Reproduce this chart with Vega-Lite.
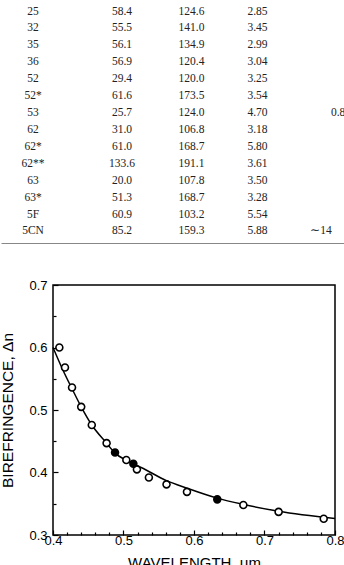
{
  "$schema": "https://vega.github.io/schema/vega-lite/v6.json",
  "background": "white",
  "padding": 0,
  "columns": 1,
  "align": "none",
  "spacing": 35,
  "config": {
    "view": {"stroke": "black", "strokeWidth": 1.5},
    "axis": {"labelFont": "Liberation Sans", "titleFont": "Liberation Sans", "labelColor": "black", "titleColor": "black", "titleFontWeight": "normal", "grid": false, "domain": false, "tickColor": "black", "tickWidth": 1.2, "labelFlush": false, "labelOverlap": false}
  },
  "concat": [
    {
      "width": 292,
      "height": 243,
      "view": {"stroke": null},
      "data": {"values": [
        {"s": "25", "a": "58.4", "b": "124.6", "c": "2.85"},
        {"s": "32", "a": "55.5", "b": "141.0", "c": "3.45"},
        {"s": "35", "a": "56.1", "b": "134.9", "c": "2.99"},
        {"s": "36", "a": "56.9", "b": "120.4", "c": "3.04"},
        {"s": "52", "a": "29.4", "b": "120.0", "c": "3.25"},
        {"s": "52*", "a": "61.6", "b": "173.5", "c": "3.54"},
        {"s": "53", "a": "25.7", "b": "124.0", "c": "4.70", "e": "0.85"},
        {"s": "62", "a": "31.0", "b": "106.8", "c": "3.18"},
        {"s": "62*", "a": "61.0", "b": "168.7", "c": "5.80"},
        {"s": "62**", "a": "133.6", "b": "191.1", "c": "3.61"},
        {"s": "63", "a": "20.0", "b": "107.8", "c": "3.50"},
        {"s": "63*", "a": "51.3", "b": "168.7", "c": "3.28"},
        {"s": "5F", "a": "60.9", "b": "103.2", "c": "5.54"},
        {"s": "5CN", "a": "85.2", "b": "159.3", "c": "5.88", "d": "∼14"}
      ]},
      "transform": [
        {"fold": ["s", "a", "b", "c", "d", "e"], "as": ["key", "txt"]},
        {"filter": "datum.txt != null"},
        {"lookup": "key", "from": {"data": {"values": [
          {"key": "s", "pos": 1}, {"key": "a", "pos": 2}, {"key": "b", "pos": 3},
          {"key": "c", "pos": 4}, {"key": "d", "pos": 5}, {"key": "e", "pos": 6}
        ]}, "key": "key", "fields": ["pos"]}}
      ],
      "mark": {"type": "text", "font": "Liberation Serif", "fontSize": 11.5, "color": "#222"},
      "encoding": {
        "x": {"field": "pos", "type": "quantitative", "scale": {"domain": [0, 1, 2, 3, 4, 5, 6, 7], "range": [-52, -20, 69, 138.5, 204.5, 268, 288, 292]}, "axis": {"domain": true, "domainColor": "#888", "domainWidth": 1, "ticks": false, "labels": false, "title": null}},
        "y": {"field": "s", "type": "ordinal", "sort": null, "scale": {"type": "point", "padding": 0.68}, "axis": null},
        "text": {"field": "txt", "type": "nominal"}
      }
    },
    {
      "width": 282,
      "height": 250,
      "layer": [
        {
          "data": {"values": [
            {"wl": 0.400, "dn": 0.600}, {"wl": 0.414, "dn": 0.564}, {"wl": 0.427, "dn": 0.534},
            {"wl": 0.440, "dn": 0.505}, {"wl": 0.455, "dn": 0.476}, {"wl": 0.476, "dn": 0.447},
            {"wl": 0.488, "dn": 0.431}, {"wl": 0.505, "dn": 0.419}, {"wl": 0.515, "dn": 0.413},
            {"wl": 0.525, "dn": 0.408}, {"wl": 0.561, "dn": 0.387}, {"wl": 0.590, "dn": 0.375},
            {"wl": 0.633, "dn": 0.359}, {"wl": 0.670, "dn": 0.349}, {"wl": 0.720, "dn": 0.338},
            {"wl": 0.800, "dn": 0.3265}
          ]},
          "mark": {"type": "line", "color": "black", "strokeWidth": 1.5, "interpolate": "monotone"},
          "encoding": {
            "x": {"field": "wl", "type": "quantitative"},
            "y": {"field": "dn", "type": "quantitative"}
          }
        },
        {
          "data": {"values": [
            {"wl": 0.409, "dn": 0.600, "kind": "open"},
            {"wl": 0.417, "dn": 0.568, "kind": "open"},
            {"wl": 0.427, "dn": 0.536, "kind": "open"},
            {"wl": 0.440, "dn": 0.505, "kind": "open"},
            {"wl": 0.455, "dn": 0.476, "kind": "open"},
            {"wl": 0.476, "dn": 0.447, "kind": "open"},
            {"wl": 0.504, "dn": 0.420, "kind": "open"},
            {"wl": 0.519, "dn": 0.405, "kind": "open"},
            {"wl": 0.536, "dn": 0.392, "kind": "open"},
            {"wl": 0.561, "dn": 0.381, "kind": "open"},
            {"wl": 0.590, "dn": 0.369, "kind": "open"},
            {"wl": 0.670, "dn": 0.348, "kind": "open"},
            {"wl": 0.720, "dn": 0.337, "kind": "open"},
            {"wl": 0.784, "dn": 0.326, "kind": "open"},
            {"wl": 0.488, "dn": 0.432, "kind": "filled"},
            {"wl": 0.514, "dn": 0.414, "kind": "filled"},
            {"wl": 0.633, "dn": 0.357, "kind": "filled"}
          ]},
          "mark": {"type": "circle", "size": 48, "stroke": "black", "strokeWidth": 1.6, "opacity": 1},
          "encoding": {
            "x": {"field": "wl", "type": "quantitative"},
            "y": {"field": "dn", "type": "quantitative"},
            "fill": {"field": "kind", "type": "nominal", "scale": {"domain": ["open", "filled"], "range": ["white", "black"]}, "legend": null}
          }
        }
      ],
      "encoding": {
        "x": {"field": "wl", "type": "quantitative", "scale": {"domain": [0.4, 0.8], "nice": false, "zero": false},
          "axis": {"title": "WAVELENGTH, μm", "titleFontSize": 15, "titlePadding": 6, "labelFontSize": 13, "labelPadding": 4,
            "values": [0.4, 0.42, 0.44, 0.46, 0.48, 0.5, 0.52, 0.54, 0.56, 0.58, 0.6, 0.62, 0.64, 0.66, 0.68, 0.7, 0.72, 0.74, 0.76, 0.78, 0.8],
            "labelExpr": "abs(datum.value*10 - round(datum.value*10)) < 0.001 ? format(datum.value, '.1f') : ''",
            "tickSize": {"condition": {"test": "abs(datum.value*10 - round(datum.value*10)) < 0.001", "value": -5}, "value": -3}}},
        "y": {"field": "dn", "type": "quantitative", "scale": {"domain": [0.3, 0.7], "nice": false, "zero": false},
          "axis": {"title": "BIREFRINGENCE, Δn", "titleFontSize": 15.5, "titlePadding": 13, "labelFontSize": 13, "labelPadding": 11,
            "values": [0.3, 0.35, 0.4, 0.45, 0.5, 0.55, 0.6, 0.65, 0.7],
            "labelExpr": "abs(datum.value*10 - round(datum.value*10)) < 0.001 ? format(datum.value, '.1f') : ''",
            "tickSize": {"condition": {"test": "abs(datum.value*10 - round(datum.value*10)) < 0.001", "value": -5}, "value": -3}}}
      }
    }
  ]
}
